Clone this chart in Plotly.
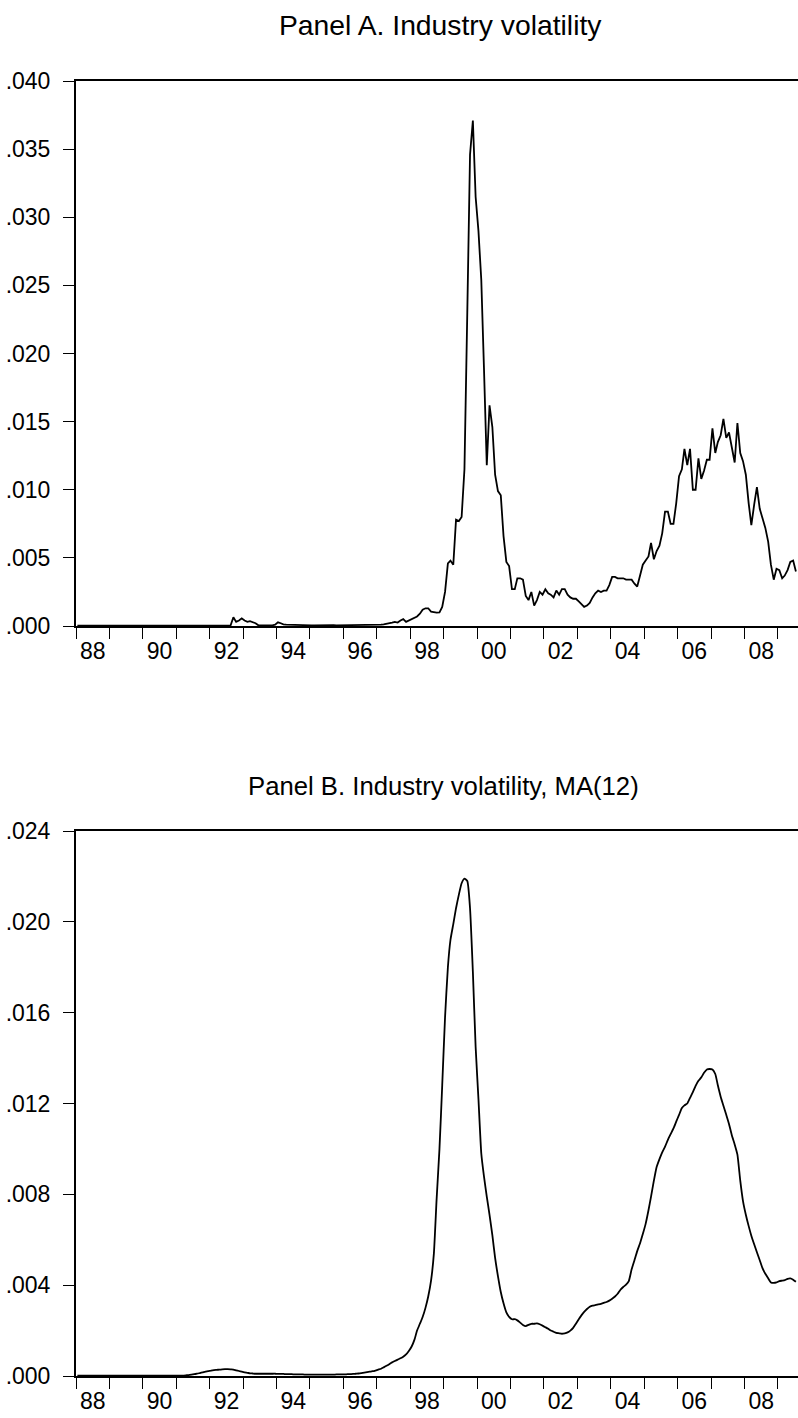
import pandas as pd
import plotly.graph_objects as go

# ---------------- data (monthly, Jan 1988 onward) ----------------
start_month = "1988-01-01"

vol_a = [
    # 1988
    0.00002, 0.00002, 0.00003, 0.00002, 0.00002, 0.00001, 0.00002, 0.00002, 0.00003, 0.00002, 0.00002, 0.00002,
    # 1989
    0.00002, 0.00002, 0.00002, 0.00003, 0.00002, 0.00002, 0.00002, 0.00001, 0.00002, 0.00002, 0.00003, 0.00002,
    # 1990
    0.00002, 0.00002, 0.00002, 0.00002, 0.00003, 0.00002, 0.00002, 0.00002, 0.00002, 0.00003, 0.00002, 0.00002,
    # 1991
    0.00002, 0.00002, 0.00003, 0.00002, 0.00002, 0.00002, 0.00002, 0.00003, 0.00002, 0.00002, 0.00002, 0.00003,
    # 1992
    0.00002, 0.00002, 0.00002, 0.00003, 0.00002, 0.00002, 0.00003, 0.00004, 0.00064, 0.00030, 0.00040, 0.00056,
    # 1993
    0.00040, 0.00030, 0.00035, 0.00030, 0.00020, 0.00005, 0.00004, 0.00003, 0.00003, 0.00004, 0.00005, 0.00010,
    # 1994
    0.00027, 0.00020, 0.00012, 0.00010, 0.00010, 0.00008, 0.00008, 0.00007, 0.00007, 0.00006, 0.00006, 0.00005,
    # 1995
    0.00005, 0.00004, 0.00005, 0.00006, 0.00005, 0.00004, 0.00005, 0.00005, 0.00006, 0.00005, 0.00005, 0.00006,
    # 1996
    0.00005, 0.00006, 0.00006, 0.00005, 0.00007, 0.00007, 0.00008, 0.00008, 0.00009, 0.00010, 0.00010, 0.00010,
    # 1997
    0.00010, 0.00010, 0.00012, 0.00015, 0.00020, 0.00025, 0.00030, 0.00025, 0.00040, 0.00050, 0.00030, 0.00040,
    # 1998
    0.00050, 0.00060, 0.00070, 0.00090, 0.00120, 0.00130, 0.00130, 0.00105, 0.00100, 0.00098, 0.00100, 0.00140,
    # 1999
    0.00250, 0.00460, 0.00480, 0.00450, 0.00780, 0.00770, 0.00800, 0.01150, 0.02300, 0.03460, 0.03710, 0.03150,
    # 2000
    0.02900, 0.02540, 0.01900, 0.01180, 0.01620, 0.01460, 0.01110, 0.00990, 0.00960, 0.00660, 0.00470, 0.00440,
    # 2001
    0.00270, 0.00270, 0.00350, 0.00350, 0.00340, 0.00220, 0.00190, 0.00250, 0.00150, 0.00190, 0.00250, 0.00230,
    # 2002
    0.00270, 0.00240, 0.00230, 0.00210, 0.00260, 0.00230, 0.00270, 0.00270, 0.00230, 0.00210, 0.00200, 0.00200,
    # 2003
    0.00180, 0.00160, 0.00140, 0.00150, 0.00170, 0.00210, 0.00240, 0.00260, 0.00250, 0.00260, 0.00260, 0.00300,
    # 2004
    0.00360, 0.00360, 0.00350, 0.00350, 0.00350, 0.00340, 0.00340, 0.00340, 0.00310, 0.00290, 0.00370, 0.00450,
    # 2005
    0.00480, 0.00510, 0.00610, 0.00490, 0.00550, 0.00590, 0.00680, 0.00840, 0.00840, 0.00750, 0.00750, 0.00900,
    # 2006
    0.01100, 0.01150, 0.01300, 0.01180, 0.01300, 0.01000, 0.01000, 0.01230, 0.01080, 0.01140, 0.01220, 0.01220,
    # 2007
    0.01450, 0.01270, 0.01350, 0.01400, 0.01520, 0.01380, 0.01420, 0.01300, 0.01200, 0.01490, 0.01270, 0.01210,
    # 2008
    0.01110, 0.00900, 0.00740, 0.00890, 0.01020, 0.00860, 0.00790, 0.00720, 0.00620, 0.00450, 0.00340, 0.00420,
    # 2009
    0.00410, 0.00350, 0.00370, 0.00410, 0.00470, 0.00480, 0.00400,
]

vol_b = [
    # 1988
    0.00002, 0.00002, 0.00002, 0.00002, 0.00002, 0.00002, 0.00002, 0.00002, 0.00002, 0.00002, 0.00002, 0.00002,
    # 1989
    0.00002, 0.00002, 0.00002, 0.00002, 0.00002, 0.00002, 0.00002, 0.00002, 0.00002, 0.00002, 0.00002, 0.00002,
    # 1990
    0.00002, 0.00002, 0.00002, 0.00002, 0.00002, 0.00002, 0.00002, 0.00002, 0.00002, 0.00002, 0.00002, 0.00002,
    # 1991
    0.00002, 0.00002, 0.00002, 0.00003, 0.00004, 0.00006, 0.00008, 0.00010, 0.00013, 0.00016, 0.00019, 0.00021,
    # 1992
    0.00024, 0.00026, 0.00027, 0.00028, 0.00029, 0.00030, 0.00030, 0.00029, 0.00028, 0.00025, 0.00022, 0.00019,
    # 1993
    0.00016, 0.00014, 0.00012, 0.00011, 0.00010, 0.00010, 0.00010, 0.00010, 0.00010, 0.00010, 0.00010, 0.00010,
    # 1994
    0.00009, 0.00009, 0.00009, 0.00008, 0.00008, 0.00008, 0.00007, 0.00007, 0.00007, 0.00007, 0.00006, 0.00006,
    # 1995
    0.00006, 0.00006, 0.00006, 0.00006, 0.00006, 0.00006, 0.00006, 0.00006, 0.00006, 0.00007, 0.00007, 0.00007,
    # 1996
    0.00007, 0.00008, 0.00008, 0.00009, 0.00010, 0.00011, 0.00013, 0.00015, 0.00017, 0.00019, 0.00021, 0.00024,
    # 1997
    0.00028, 0.00032, 0.00038, 0.00045, 0.00052, 0.00060, 0.00066, 0.00072, 0.00078, 0.00085, 0.00095, 0.00110,
    # 1998
    0.00130, 0.00160, 0.00200, 0.00230, 0.00260, 0.00300, 0.00350, 0.00420, 0.00540, 0.00780, 0.01000, 0.01280,
    # 1999
    0.01580, 0.01800, 0.01920, 0.01990, 0.02060, 0.02120, 0.02170, 0.02190, 0.02180, 0.02060, 0.01780, 0.01450,
    # 2000
    0.01220, 0.00980, 0.00880, 0.00790, 0.00710, 0.00620, 0.00520, 0.00440, 0.00370, 0.00320, 0.00280, 0.00260,
    # 2001
    0.00250, 0.00250, 0.00245, 0.00235, 0.00225, 0.00220, 0.00225, 0.00230, 0.00230, 0.00232, 0.00228, 0.00222,
    # 2002
    0.00215, 0.00208, 0.00200, 0.00195, 0.00190, 0.00188, 0.00186, 0.00188, 0.00192, 0.00200, 0.00212, 0.00230,
    # 2003
    0.00250, 0.00268, 0.00282, 0.00295, 0.00305, 0.00310, 0.00312, 0.00315, 0.00318, 0.00322, 0.00326, 0.00332,
    # 2004
    0.00340, 0.00350, 0.00362, 0.00380, 0.00392, 0.00402, 0.00418, 0.00470, 0.00510, 0.00550, 0.00585, 0.00625,
    # 2005
    0.00670, 0.00730, 0.00790, 0.00860, 0.00920, 0.00955, 0.00985, 0.01010, 0.01040, 0.01065, 0.01090, 0.01120,
    # 2006
    0.01150, 0.01180, 0.01192, 0.01200, 0.01225, 0.01250, 0.01278, 0.01300, 0.01315, 0.01335, 0.01350, 0.01352,
    # 2007
    0.01350, 0.01330, 0.01280, 0.01230, 0.01190, 0.01150, 0.01110, 0.01060, 0.01020, 0.00975, 0.00860, 0.00770,
    # 2008
    0.00710, 0.00660, 0.00618, 0.00580, 0.00545, 0.00510, 0.00475, 0.00450, 0.00430, 0.00412, 0.00410, 0.00412,
    # 2009
    0.00418, 0.00420, 0.00422, 0.00428, 0.00430, 0.00424, 0.00415,
]

year_label_years = list(range(1988, 2009, 2))
year_labels = [f"{y % 100:02d}" for y in year_label_years]

ticks_a = [0.0, 0.005, 0.010, 0.015, 0.020, 0.025, 0.030, 0.035, 0.040]
ticks_a_text = [".000", ".005", ".010", ".015", ".020", ".025", ".030", ".035", ".040"]
ticks_b = [0.0, 0.004, 0.008, 0.012, 0.016, 0.020, 0.024]
ticks_b_text = [".000", ".004", ".008", ".012", ".016", ".020", ".024"]

title_a = "Panel A. Industry volatility"
title_b = "Panel B. Industry volatility, MA(12)"

# ---------------- figure ----------------
W, H = 798, 1418
FONT = "Liberation Sans, Arial, sans-serif"

dates_a = pd.date_range(start_month, periods=len(vol_a), freq="MS") + pd.Timedelta(days=15)
dates_b = pd.date_range(start_month, periods=len(vol_b), freq="MS") + pd.Timedelta(days=15)

fig = go.Figure()
fig.add_trace(go.Scatter(x=dates_a, y=vol_a, mode="lines",
                         line=dict(color="black", width=1.8), xaxis="x", yaxis="y",
                         showlegend=False, hoverinfo="skip"))
fig.add_trace(go.Scatter(x=dates_b, y=vol_b, mode="lines",
                         line=dict(color="black", width=1.8, shape="spline", smoothing=0.5),
                         xaxis="x2", yaxis="y2", showlegend=False, hoverinfo="skip"))

left = 76 / W
def ydom(top_px, bot_px):
    return [1 - bot_px / H, 1 - top_px / H]

x_range = ["1988-01-01", "2009-08-08"]
minor_vals = [f"{y}-01-01" for y in range(1988, 2010)]
major_vals = [f"{y}-07-02" for y in year_label_years]

def xaxis_cfg(anchor):
    return dict(
        domain=[left, 1], range=x_range, type="date", anchor=anchor,
        showline=True, linecolor="black", linewidth=2, mirror=True,
        showgrid=False, zeroline=False, automargin=False,
        tickmode="array", tickvals=major_vals, ticktext=year_labels,
        ticks="outside", ticklen=3, tickcolor="rgba(0,0,0,0)",
        tickfont=dict(family=FONT, size=23, color="black"),
        minor=dict(tickmode="array", tickvals=minor_vals, ticks="outside",
                   ticklen=11, tickwidth=1.3, tickcolor="black", showgrid=False),
        fixedrange=True,
    )

def yaxis_cfg(anchor, dom, rng, vals, text):
    return dict(
        domain=dom, range=rng, anchor=anchor,
        showline=True, linecolor="black", linewidth=2, mirror=False,
        showgrid=False, zeroline=False, automargin=False,
        tickmode="array", tickvals=vals, ticktext=text,
        ticks="outside", ticklen=11, tickwidth=1, tickcolor="black",
        tickfont=dict(family=FONT, size=23, color="black"),
        ticklabelstandoff=8,
        fixedrange=True,
    )

fig.update_layout(
    width=W, height=H,
    margin=dict(l=0, r=0, t=0, b=0, autoexpand=False),
    paper_bgcolor="white", plot_bgcolor="white",
    xaxis=xaxis_cfg("y"),
    yaxis=yaxis_cfg("x", ydom(81, 626), [0, 0.040], ticks_a, ticks_a_text),
    xaxis2=xaxis_cfg("y2"),
    yaxis2=yaxis_cfg("x2", ydom(831, 1376), [0, 0.024], ticks_b, ticks_b_text),
    annotations=[
        dict(text=title_a, x=440 / W, y=1 - 25 / H, xref="paper", yref="paper",
             xanchor="center", yanchor="middle", showarrow=False,
             font=dict(family=FONT, size=28.3, color="black")),
        dict(text=title_b, x=443.5 / W, y=1 - 786 / H, xref="paper", yref="paper",
             xanchor="center", yanchor="middle", showarrow=False,
             font=dict(family=FONT, size=25.7, color="black")),
    ],
)

fig.write_html("out.html")
